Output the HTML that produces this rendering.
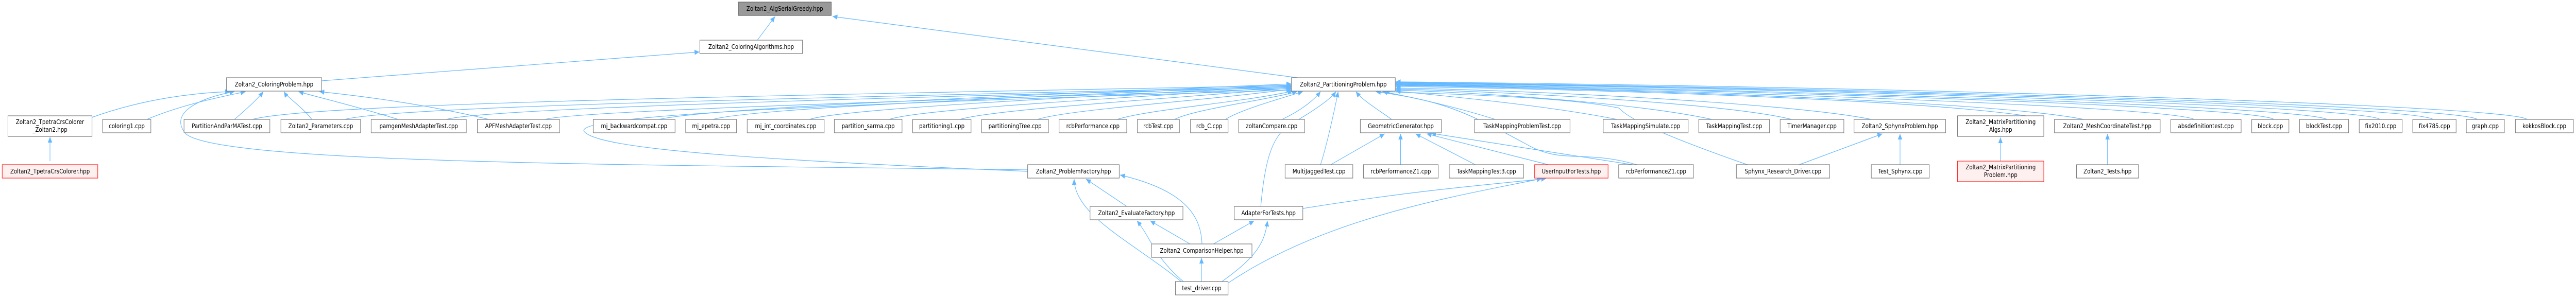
<!DOCTYPE html>
<html><head><meta charset="utf-8"><style>
html,body{margin:0;padding:0;width:100%;height:100%;overflow:hidden;background:#fff;}
svg{position:absolute;left:0;top:0;width:100%;height:100%;display:block;}
.b{fill:#fff;stroke:#7a7a7a;stroke-width:1.2;}
.r{fill:#fff0f0;stroke:#ff2020;}
.g{fill:#999;stroke:#666;}
text{font-family:"DejaVu Sans","Liberation Sans",sans-serif;font-size:12px;fill:#000;text-anchor:middle;}
</style></head><body>
<svg viewBox="0 0 5823 579" preserveAspectRatio="none">
<defs><marker id="a" markerUnits="userSpaceOnUse" markerWidth="12" markerHeight="10" refX="11" refY="5" orient="auto"><path d="M0,0 L11,5 L0,10 z" fill="#63b8ff"/></marker></defs>
<g fill="none" stroke="#63b8ff" stroke-width="1.2" marker-end="url(#a)">
<path d="M1712,78 L1752,32"/>
<path d="M2933,151 L1882,32"/>
<path d="M727,157 L1581,101"/>
<path d="M113,313 L113,266"/>
<path d="M208,228 C330,190 450,180 520,178"/>
<path d="M332,232 C420,200 520,185 555,178"/>
<path d="M530,232 C560,210 585,190 595,178"/>
<path d="M705,232 C680,205 650,190 642,178"/>
<path d="M900,232 C800,205 700,185 675,178"/>
<path d="M1105,232 C950,200 800,185 722,178"/>
<path d="M2323,330 C1500,320 500,320 420,260 C380,220 450,190 530,178"/>
<path d="M2323,333 C1700,310 1350,290 1320,255 C1300,220 2000,200 2919,175"/>
<path d="M571,232 C700,200 1800,185 2919,166"/>
<path d="M779,232 C900,205 1900,190 2919,168"/>
<path d="M1009,232 C1100,210 2000,190 2919,170"/>
<path d="M1232,232 C1300,215 2100,195 2919,172"/>
<path d="M1490,232 C1600,210 2200,190 2919,163"/>
<path d="M1612,232 C1700,210 2300,190 2919,165"/>
<path d="M1830,232 C1900,212 2400,190 2919,167"/>
<path d="M2010,232 C2080,212 2500,192 2919,169"/>
<path d="M2170,232 C2250,212 2600,195 2919,171"/>
<path d="M2345,232 C2420,212 2700,198 2919,173"/>
<path d="M2525,232 C2600,212 2800,200 2922,177"/>
<path d="M2655,232 C2700,212 2860,195 2932,178"/>
<path d="M2770,232 C2800,215 2880,195 2945,178"/>
<path d="M2898,232 C2940,215 2970,195 2985,178"/>
<path d="M3146,232 C3110,210 3080,195 3065,178"/>
<path d="M2985,320 C3000,280 3015,220 3025,178"/>
<path d="M2850,401 C2860,300 2880,260 2920,240 C2980,210 3010,190 3020,178"/>
<path d="M3700,320 C3580,290 3530,320 3450,280 C3300,210 3250,195 3110,178"/>
<path d="M3950,320 C3750,260 3680,230 3660,210 C3550,190 3350,185 3130,178"/>
<path d="M3380,232 C3300,210 3200,190 3125,178"/>
<path d="M3655,232 C3500,205 3250,185 3155,177"/>
<path d="M3870,232 C3700,200 3350,180 3155,175"/>
<path d="M4050,232 C3900,200 3400,178 3155,173"/>
<path d="M4230,232 C4050,200 3450,175 3155,171"/>
<path d="M4580,225 C4300,190 3500,172 3155,168"/>
<path d="M4710,232 C4500,195 3600,172 3155,166"/>
<path d="M4960,232 C4900,205 3700,172 3155,165"/>
<path d="M5140,232 C5100,205 3800,172 3155,164"/>
<path d="M5260,232 C5200,205 3900,172 3155,163"/>
<path d="M5380,232 C5340,205 4000,170 3155,162"/>
<path d="M5500,232 C5460,205 4100,170 3155,161"/>
<path d="M5600,232 C5560,205 4200,170 3155,160"/>
<path d="M5712,232 C5680,205 4300,168 3155,159"/>
<path d="M3008,320 L3130,260"/>
<path d="M3166,320 L3166,260"/>
<path d="M3335,320 L3200,260"/>
<path d="M3500,320 L3225,260"/>
<path d="M3690,320 L3235,259"/>
<path d="M4067,320 L4255,260"/>
<path d="M4295,320 L4295,260"/>
<path d="M4522,313 L4522,267"/>
<path d="M4764,320 L4764,260"/>
<path d="M2547,401 L2455,348"/>
<path d="M2717,474 C2715,420 2680,370 2532,340"/>
<path d="M2670,547 C2560,470 2430,420 2428,348"/>
<path d="M2690,474 L2600,429"/>
<path d="M2675,547 C2610,500 2600,460 2570,429"/>
<path d="M2743,474 L2835,429"/>
<path d="M2762,547 C2840,500 2860,470 2865,429"/>
<path d="M2945,405 C3200,370 3350,360 3495,347"/>
<path d="M2776,550 C3000,420 3300,380 3485,347"/>
<path d="M2716,547 L2716,501"/>
</g>
<g>
<rect class="b g" x="1669" y="4" width="210" height="26"/><text x="1774" y="21">Zoltan2_AlgSerialGreedy.hpp</text>
<rect class="b" x="1582" y="78" width="232" height="26"/><text x="1698" y="95">Zoltan2_ColoringAlgorithms.hpp</text>
<rect class="b" x="512" y="151" width="215" height="26"/><text x="619.5" y="168">Zoltan2_ColoringProblem.hpp</text>
<rect class="b" x="2919" y="151" width="235" height="26"/><text x="3036.5" y="168">Zoltan2_PartitioningProblem.hpp</text>
<rect class="b" x="18" y="225" width="190" height="40"/><text x="113" y="241">Zoltan2_TpetraCrsColorer</text><text x="113" y="256">_Zoltan2.hpp</text>
<rect class="b" x="232" y="232" width="109" height="26"/><text x="286.5" y="249">coloring1.cpp</text>
<rect class="b" x="416" y="232" width="194" height="26"/><text x="513" y="249">PartitionAndParMATest.cpp</text>
<rect class="b" x="635" y="232" width="180" height="26"/><text x="725" y="249">Zoltan2_Parameters.cpp</text>
<rect class="b" x="839" y="232" width="215" height="26"/><text x="946.5" y="249">pamgenMeshAdapterTest.cpp</text>
<rect class="b" x="1079" y="232" width="186" height="26"/><text x="1172" y="249">APFMeshAdapterTest.cpp</text>
<rect class="b" x="1341" y="232" width="185" height="26"/><text x="1433.5" y="249">mj_backwardcompat.cpp</text>
<rect class="b" x="1550" y="232" width="115" height="26"/><text x="1607.5" y="249">mj_epetra.cpp</text>
<rect class="b" x="1689" y="232" width="174" height="26"/><text x="1776" y="249">mj_int_coordinates.cpp</text>
<rect class="b" x="1886" y="232" width="153" height="26"/><text x="1962.5" y="249">partition_sarma.cpp</text>
<rect class="b" x="2063" y="232" width="132" height="26"/><text x="2129" y="249">partitioning1.cpp</text>
<rect class="b" x="2219" y="232" width="151" height="26"/><text x="2294.5" y="249">partitioningTree.cpp</text>
<rect class="b" x="2394" y="232" width="153" height="26"/><text x="2470.5" y="249">rcbPerformance.cpp</text>
<rect class="b" x="2571" y="232" width="95" height="26"/><text x="2618.5" y="249">rcbTest.cpp</text>
<rect class="b" x="2691" y="232" width="85" height="26"/><text x="2733.5" y="249">rcb_C.cpp</text>
<rect class="b" x="2800" y="232" width="149" height="26"/><text x="2874.5" y="249">zoltanCompare.cpp</text>
<rect class="b" x="3075" y="232" width="183" height="26"/><text x="3166.5" y="249">GeometricGenerator.hpp</text>
<rect class="b" x="3333" y="232" width="216" height="26"/><text x="3441" y="249">TaskMappingProblemTest.cpp</text>
<rect class="b" x="3624" y="232" width="192" height="26"/><text x="3720" y="249">TaskMappingSimulate.cpp</text>
<rect class="b" x="3840" y="232" width="160" height="26"/><text x="3920" y="249">TaskMappingTest.cpp</text>
<rect class="b" x="4024" y="232" width="144" height="26"/><text x="4096" y="249">TimerManager.cpp</text>
<rect class="b" x="4191" y="232" width="207" height="26"/><text x="4294.5" y="249">Zoltan2_SphynxProblem.hpp</text>
<rect class="b" x="4425" y="225" width="195" height="40"/><text x="4522.5" y="241">Zoltan2_MatrixPartitioning</text><text x="4522.5" y="256">Algs.hpp</text>
<rect class="b" x="4644" y="232" width="239" height="26"/><text x="4763.5" y="249">Zoltan2_MeshCoordinateTest.hpp</text>
<rect class="b" x="4907" y="232" width="159" height="26"/><text x="4986.5" y="249">absdefinitiontest.cpp</text>
<rect class="b" x="5090" y="232" width="84" height="26"/><text x="5132" y="249">block.cpp</text>
<rect class="b" x="5198" y="232" width="111" height="26"/><text x="5253.5" y="249">blockTest.cpp</text>
<rect class="b" x="5333" y="232" width="97" height="26"/><text x="5381.5" y="249">fix2010.cpp</text>
<rect class="b" x="5454" y="232" width="98" height="26"/><text x="5503" y="249">fix4785.cpp</text>
<rect class="b" x="5575" y="232" width="86" height="26"/><text x="5618" y="249">graph.cpp</text>
<rect class="b" x="5686" y="232" width="131" height="26"/><text x="5751.5" y="249">kokkosBlock.cpp</text>
<rect class="b r" x="5" y="320" width="216" height="26"/><text x="113" y="337">Zoltan2_TpetraCrsColorer.hpp</text>
<rect class="b" x="2323" y="320" width="207" height="26"/><text x="2426.5" y="337">Zoltan2_ProblemFactory.hpp</text>
<rect class="b" x="2905" y="320" width="153" height="26"/><text x="2981.5" y="337">MultiJaggedTest.cpp</text>
<rect class="b" x="3082" y="320" width="169" height="26"/><text x="3166.5" y="337">rcbPerformanceZ1.cpp</text>
<rect class="b" x="3276" y="320" width="168" height="26"/><text x="3360" y="337">TaskMappingTest3.cpp</text>
<rect class="b r" x="3469" y="320" width="166" height="26"/><text x="3552" y="337">UserInputForTests.hpp</text>
<rect class="b" x="3659" y="320" width="169" height="26"/><text x="3743.5" y="337">rcbPerformanceZ1.cpp</text>
<rect class="b" x="3925" y="320" width="211" height="26"/><text x="4030.5" y="337">Sphynx_Research_Driver.cpp</text>
<rect class="b" x="4230" y="320" width="131" height="26"/><text x="4295.5" y="337">Test_Sphynx.cpp</text>
<rect class="b r" x="4425" y="313" width="195" height="40"/><text x="4522.5" y="329">Zoltan2_MatrixPartitioning</text><text x="4522.5" y="344">Problem.hpp</text>
<rect class="b" x="4694" y="320" width="140" height="26"/><text x="4764" y="337">Zoltan2_Tests.hpp</text>
<rect class="b" x="2464" y="401" width="210" height="26"/><text x="2569" y="418">Zoltan2_EvaluateFactory.hpp</text>
<rect class="b" x="2790" y="401" width="155" height="26"/><text x="2867.5" y="418">AdapterForTests.hpp</text>
<rect class="b" x="2603" y="474" width="227" height="26"/><text x="2716.5" y="491">Zoltan2_ComparisonHelper.hpp</text>
<rect class="b" x="2657" y="547" width="119" height="26"/><text x="2716.5" y="564">test_driver.cpp</text>
</g>
</svg>
</body></html>
